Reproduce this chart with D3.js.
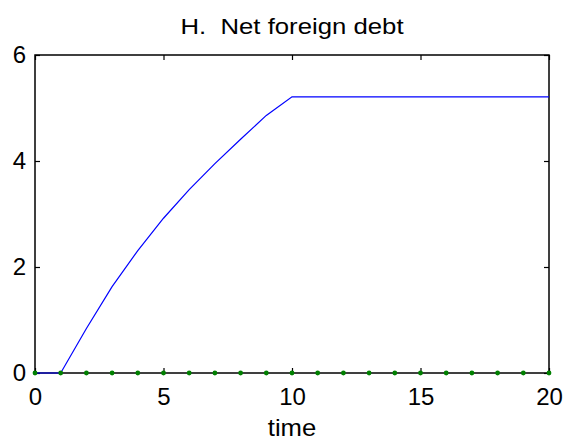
<!DOCTYPE html>
<html>
<head>
<meta charset="utf-8">
<script src="https://cdn.jsdelivr.net/npm/d3@7"></script>
<style>
  body { margin: 0; background: #fff; }
  svg { display: block; }
  text { font-family: "Liberation Sans", Arial, sans-serif; fill: #000; }
</style>
</head>
<body>
<svg id="chart" width="567" height="440"></svg>
<script>
// data
let time = [0, 1, 2, 3, 4, 5, 6, 7, 8, 9, 10, 11, 12, 13, 14, 15, 16, 17, 18, 19, 20];
let debt = [0, 0, 0.84, 1.63, 2.31, 2.92, 3.46, 3.95, 4.41, 4.86, 5.21,
            5.21, 5.21, 5.21, 5.21, 5.21, 5.21, 5.21, 5.21, 5.21, 5.21];
let baseline = [0, 0, 0, 0, 0, 0, 0, 0, 0, 0, 0, 0, 0, 0, 0, 0, 0, 0, 0, 0, 0];
let xTicks = [0, 5, 10, 15, 20];
let yTicks = [0, 2, 4, 6];

let svg = d3.select("#chart");
let pl = 35, pr = 549, pt = 55, pb = 373;

let x = d3.scaleLinear().domain([0, 20]).range([pl, pr]);
let y = d3.scaleLinear().domain([0, 6]).range([pb, pt]);

// box
svg.append("rect")
    .attr("x", pl).attr("y", pt)
    .attr("width", pr - pl).attr("height", pb - pt)
    .style("fill", "none")
    .style("stroke", "#000")
    .style("stroke-width", 1.5);

// axes, ticks pointing inward
let tick = 5;
svg.append("g")
    .attr("transform", "translate(0," + pb + ")")
    .call(d3.axisBottom(x).tickValues(xTicks).tickSizeInner(-tick).tickSizeOuter(0)
        .tickPadding(15).tickFormat(d3.format("d")))
    .call(g => g.select(".domain").remove());
svg.append("g")
    .attr("transform", "translate(0," + pt + ")")
    .call(d3.axisTop(x).tickValues(xTicks).tickSizeInner(-tick).tickSizeOuter(0).tickFormat(""))
    .call(g => g.select(".domain").remove());
svg.append("g")
    .attr("transform", "translate(" + pl + ",0)")
    .call(d3.axisLeft(y).tickValues(yTicks).tickSizeInner(-tick).tickSizeOuter(0)
        .tickPadding(9).tickFormat(d3.format("d")))
    .call(g => g.select(".domain").remove());
svg.append("g")
    .attr("transform", "translate(" + pr + ",0)")
    .call(d3.axisRight(y).tickValues(yTicks).tickSizeInner(-tick).tickSizeOuter(0).tickFormat(""))
    .call(g => g.select(".domain").remove());

svg.selectAll(".tick line").style("stroke", "#000").style("stroke-width", 1.2);
svg.selectAll(".tick text")
    .style("font-size", "24px")
    .style("font-family", "'Liberation Sans', Arial, sans-serif")
    .style("fill", "#000");

// blue line
let line = d3.line()
    .x((d, i) => x(time[i]))
    .y(d => y(d));
svg.append("path")
    .datum(debt)
    .attr("d", line)
    .style("fill", "none")
    .style("stroke", "#0000ff")
    .style("stroke-width", 1.2);

// green dotted series along zero
svg.selectAll("circle.dot")
    .data(baseline)
    .enter()
    .append("circle")
    .attr("class", "dot")
    .attr("cx", (d, i) => x(time[i]))
    .attr("cy", d => y(d))
    .attr("r", 2.4)
    .style("fill", "#008000");

// title and label (glyphs in the original are a bit wider than Liberation Sans)
svg.append("text")
    .attr("transform", "translate(" + ((pl + pr) / 2) + ",34) scale(1.17,1)")
    .attr("text-anchor", "middle")
    .style("font-size", "22px")
    .style("white-space", "pre")
    .text("H.  Net foreign debt");
svg.append("text")
    .attr("transform", "translate(" + ((pl + pr) / 2) + ",436) scale(1.07,1)")
    .attr("text-anchor", "middle")
    .style("font-size", "24px")
    .text("time");
</script>
</body>
</html>
